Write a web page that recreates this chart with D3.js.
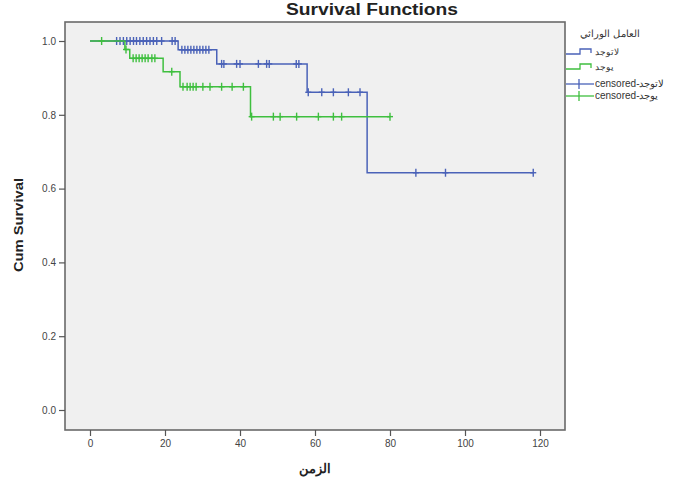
<!DOCTYPE html>
<html><head><meta charset="utf-8">
<script src="https://cdn.jsdelivr.net/npm/d3@7"></script>
<style>
body{margin:0;background:#fff;}
text{font-family:Arial,"Liberation Sans",sans-serif;}
</style></head>
<body><svg id="chart" width="685" height="482"></svg>
<script>
// ---- data ----
const chartTitle = "Survival Functions";
const yTitle = "Cum Survival";
const xTitle = "الزمن";
const legendTitle = "العامل الوراثي";
const groupNames = ["لاتوجد", "يوجد"];
const xTicks = [0, 20, 40, 60, 80, 100, 120];
const yTicks = [0.0, 0.2, 0.4, 0.6, 0.8, 1.0];

// group 1 (لاتوجد)
const blueStepTimes = [0, 23.5, 33.8, 57.9, 73.9];
const blueStepSurv = [1.0, 0.976, 0.938, 0.861, 0.643];
const blueEnd = 118.2;
const blueCensored = [7.1, 8, 8.9, 9.8, 10.7, 11.6, 12.4, 13.3, 14.2, 15.1, 16, 16.9, 17.8, 19.1, 21.9, 22.7,
  24.5, 25.3, 26.1, 26.9, 27.7, 28.5, 29.3, 30.1, 30.9, 31.7,
  35.1, 35.7, 39.1, 40.0, 44.9, 47.1, 47.8, 55.0, 55.7,
  58.2, 61.8, 64.9, 68.9, 72.0, 86.9, 94.8, 118.2];

// group 2 (يوجد)
const greenStepTimes = [0, 9.3, 10.6, 19.5, 24.0, 42.8];
const greenStepSurv = [1.0, 0.977, 0.953, 0.917, 0.876, 0.795];
const greenEnd = 80.0;
const greenCensored = [3.1, 9.6, 11.5, 12.3, 13.1, 13.9, 14.7, 15.5, 16.5, 17.3, 21.8,
  24.8, 25.9, 26.7, 27.5, 28.3, 30.1, 32.0, 35.1, 37.9, 40.9,
  43.1, 48.9, 50.7, 55.1, 60.9, 64.9, 67.1, 80.0];

const colors = ["#4a62b8", "#3fbf3f"];

// ---- layout ----
const svg = d3.select("#chart");
const frame = {l: 65, r: 565, t: 22, b: 430};
const x = d3.scaleLinear().domain([0, 120]).range([90, 540]);
const y = d3.scaleLinear().domain([0, 1]).range([410, 41]);

svg.append("rect").attr("x", frame.l).attr("y", frame.t)
  .attr("width", frame.r - frame.l).attr("height", frame.b - frame.t)
  .attr("fill", "#f0f0f0").attr("stroke", "#6a6a6a").attr("stroke-width", 1.6);

// title
svg.append("text").attr("x", 372).attr("y", 15).attr("text-anchor", "middle")
  .attr("font-size", 16).attr("font-weight", "bold").attr("fill", "#222")
  .attr("textLength", 172).attr("lengthAdjust", "spacingAndGlyphs").text(chartTitle);

// y axis
const yAxis = d3.axisLeft(y).tickValues(yTicks).tickFormat(d3.format(".1f")).tickSize(6).tickPadding(3);
const gy = svg.append("g").attr("transform", `translate(${frame.l},0)`).call(yAxis);
gy.select(".domain").remove();
gy.selectAll("line").attr("stroke", "#555").attr("stroke-width", 1.2);
gy.selectAll("text").attr("font-size", 10).attr("fill", "#444").attr("font-family", "Arial,'Liberation Sans',sans-serif");

// x axis
const xAxis = d3.axisBottom(x).tickValues(xTicks).tickFormat(d3.format("d")).tickSize(6).tickPadding(4);
const gx = svg.append("g").attr("transform", `translate(0,${frame.b})`).call(xAxis);
gx.select(".domain").remove();
gx.selectAll("line").attr("stroke", "#555").attr("stroke-width", 1.2);
gx.selectAll("text").attr("font-size", 10).attr("fill", "#444").attr("font-family", "Arial,'Liberation Sans',sans-serif");

svg.append("text").attr("transform", "translate(23,225) rotate(-90)").attr("text-anchor", "middle")
  .attr("font-size", 13).attr("font-weight", "bold").attr("fill", "#222")
  .attr("textLength", 94).attr("lengthAdjust", "spacingAndGlyphs").text(yTitle);
svg.append("text").attr("x", 315).attr("y", 473).attr("text-anchor", "middle")
  .attr("font-size", 13).attr("font-weight", "bold").attr("fill", "#222").text(xTitle);

// curves
function survAt(times, surv, t) {
  let s = surv[0];
  for (let i = 0; i < times.length; i++) if (times[i] <= t) s = surv[i];
  return s;
}
const groups = [
  {times: blueStepTimes, surv: blueStepSurv, end: blueEnd, cens: blueCensored, color: colors[0]},
  {times: greenStepTimes, surv: greenStepSurv, end: greenEnd, cens: greenCensored, color: colors[1]}
];
const line = d3.line().x(d => x(d[0])).y(d => y(d[1])).curve(d3.curveStepAfter);
groups.forEach(g => {
  const pts = g.times.map((t, i) => [t, g.surv[i]]);
  pts.push([g.end, g.surv[g.surv.length - 1]]);
  svg.append("path").datum(pts).attr("d", line).attr("fill", "none")
    .attr("stroke", g.color).attr("stroke-width", 1.5);
  const cg = svg.append("g");
  g.cens.forEach(t => {
    const cx = x(t), cy = y(survAt(g.times, g.surv, t));
    cg.append("line").attr("x1", cx).attr("x2", cx).attr("y1", cy - 4).attr("y2", cy + 4)
      .attr("stroke", g.color).attr("stroke-width", 1.4);
    cg.append("line").attr("x1", cx - 3).attr("x2", cx + 3).attr("y1", cy).attr("y2", cy)
      .attr("stroke", g.color).attr("stroke-width", 1.4);
  });
});

// legend
const lg = svg.append("g");
lg.append("text").attr("x", 610).attr("y", 37).attr("text-anchor", "middle")
  .attr("font-size", 10).attr("fill", "#333").text(legendTitle);
const rowsY = [52, 67, 84, 96];
[0, 1].forEach(i => {
  const yy = rowsY[i];
  lg.append("path").attr("d", `M566,${yy + 2}H580V${yy - 3}H591V${yy + 1}`)
    .attr("fill", "none").attr("stroke", colors[i]).attr("stroke-width", 1.3);
  lg.append("text").attr("x", 595).attr("y", yy + 3).attr("font-size", 9).attr("fill", "#333").text(groupNames[i]);
});
[0, 1].forEach(i => {
  const yy = rowsY[i + 2];
  lg.append("line").attr("x1", 566).attr("x2", 594).attr("y1", yy).attr("y2", yy)
    .attr("stroke", colors[i]).attr("stroke-width", 1.3);
  lg.append("line").attr("x1", 579).attr("x2", 579).attr("y1", yy - 5).attr("y2", yy + 5)
    .attr("stroke", colors[i]).attr("stroke-width", 1.3);
  lg.append("text").attr("x", 595).attr("y", yy + 3).attr("font-size", 10).attr("fill", "#333")
    .text("censored-" + groupNames[i]);
});
</script></body></html>
